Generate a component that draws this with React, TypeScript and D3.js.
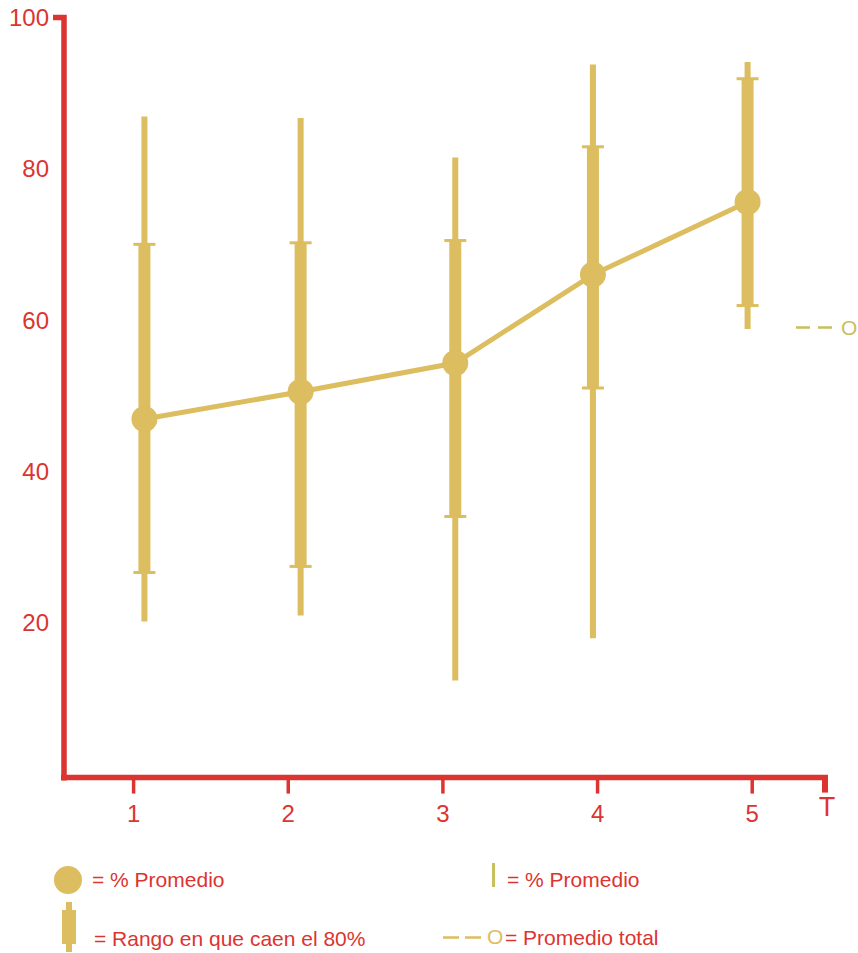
import * as d3 from "d3";

// tick labels along T and values of the five groups
const xTicks = [1, 2, 3, 4, 5];
const xPositions = [1.07, 2.08, 3.08, 3.97, 4.97];
const meanValues = [46.9, 50.5, 54.3, 66.0, 75.6];
const p10Values = [26.6, 27.4, 34.0, 51.0, 61.9];
const p90Values = [70.0, 70.2, 70.5, 82.9, 91.9];
const minValues = [20.1, 20.9, 12.3, 17.9, 58.8];
const maxValues = [86.9, 86.7, 81.5, 93.8, 94.1];
const yTicks = [20, 40, 60, 80, 100];
const overallMean = 59;

const RED = "#dc3430";
const GOLD = "#dcbd5f";
const OLIVE = "#c8bf5e";
const FONT = "'Liberation Sans', Arial, sans-serif";

export default function App() {
  const width = 858;
  const height = 953;

  const x = d3.scaleLinear().domain([0.55, 5.49]).range([64, 828]);
  const y = d3.scaleLinear().domain([0, 100]).range([773.6, 17.5]);

  const x0 = x.range()[0];
  const x1 = x.range()[1];
  const axisY = y(0) + 4;

  const points = xPositions.map((p, i) => ({
    x: p,
    mean: meanValues[i],
    lo: p10Values[i],
    hi: p90Values[i],
    min: minValues[i],
    max: maxValues[i],
  }));

  const line = d3
    .line<(typeof points)[number]>()
    .x((d) => x(d.x))
    .y((d) => y(d.mean));

  // y axis with its small nub at the top
  const yAxisPath = `M${x0 - 11},${y(100)} H${x0} V${axisY + 3}`;
  // x axis, with the thick end tick at the right
  const xAxisPath = `M${x0 - 3},${axisY} H${x1}`;

  const meanY = y(overallMean);

  return (
    <svg
      width={width}
      height={height}
      style={{ position: "absolute", left: 0, top: 0, display: "block" }}
      fontFamily={FONT}
    >
      <rect width={width} height={height} fill="#ffffff" />

      {/* axes */}
      <path d={yAxisPath} fill="none" stroke={RED} strokeWidth={5.5} />
      <path d={xAxisPath} fill="none" stroke={RED} strokeWidth={5.5} />
      <line
        x1={x1 - 3}
        x2={x1 - 3}
        y1={axisY}
        y2={axisY + 15}
        stroke={RED}
        strokeWidth={6}
      />

      {yTicks.map((t) => (
        <text
          key={t}
          x={49}
          y={y(t)}
          dy="0.36em"
          textAnchor="end"
          fill={RED}
          fontSize={24}
        >
          {t}
        </text>
      ))}

      {xTicks.map((t) => (
        <g key={t}>
          <line
            x1={x(t)}
            x2={x(t)}
            y1={axisY}
            y2={axisY + 16}
            stroke={RED}
            strokeWidth={3.5}
          />
          <text
            x={x(t)}
            y={822}
            textAnchor="middle"
            fill={RED}
            fontSize={24}
          >
            {t}
          </text>
        </g>
      ))}
      <text x={x1 - 1} y={816} textAnchor="middle" fill={RED} fontSize={27}>
        T
      </text>

      {/* whiskers and 80% ranges */}
      {points.map((d, i) => (
        <g key={i}>
          <line
            x1={x(d.x)}
            x2={x(d.x)}
            y1={y(d.max)}
            y2={y(d.min)}
            stroke={GOLD}
            strokeWidth={6}
          />
          <line
            x1={x(d.x)}
            x2={x(d.x)}
            y1={y(d.hi)}
            y2={y(d.lo)}
            stroke={GOLD}
            strokeWidth={12}
          />
          {[d.hi, d.lo].map((v, k) => (
            <line
              key={k}
              x1={x(d.x) - 11}
              x2={x(d.x) + 11}
              y1={y(v)}
              y2={y(v)}
              stroke={GOLD}
              strokeWidth={3}
            />
          ))}
        </g>
      ))}

      <path d={line(points) ?? ""} fill="none" stroke={GOLD} strokeWidth={5} />

      {points.map((d, i) => (
        <circle key={i} cx={x(d.x)} cy={y(d.mean)} r={13} fill={GOLD} />
      ))}

      {/* overall mean marker */}
      <line
        x1={x1 - 32}
        x2={x1 + 5}
        y1={meanY}
        y2={meanY}
        stroke={OLIVE}
        strokeWidth={2.5}
        strokeDasharray="14,8"
      />
      <text x={x1 + 13} y={meanY} dy="0.36em" fill={OLIVE} fontSize={21}>
        O
      </text>

      {/* legend */}
      <circle cx={68} cy={880} r={14} fill={GOLD} />
      <text x={92} y={887} fill={RED} fontSize={21}>
        = % Promedio
      </text>

      <line x1={69} x2={69} y1={902} y2={952} stroke={GOLD} strokeWidth={6} />
      <line x1={69} x2={69} y1={910} y2={944} stroke={GOLD} strokeWidth={14} />
      <text x={94} y={946} fill={RED} fontSize={21}>
        = Rango en que caen el 80%
      </text>

      <line x1={493.5} x2={493.5} y1={863} y2={887} stroke={OLIVE} strokeWidth={3} />
      <text x={507} y={887} fill={RED} fontSize={21}>
        = % Promedio
      </text>

      <line
        x1={443}
        x2={482}
        y1={937.5}
        y2={937.5}
        stroke={GOLD}
        strokeWidth={2.5}
        strokeDasharray="16,6"
      />
      <text x={487} y={944} fill={GOLD} fontSize={21}>
        O
      </text>
      <text x={505} y={945} fill={RED} fontSize={21}>
        = Promedio total
      </text>
    </svg>
  );
}
